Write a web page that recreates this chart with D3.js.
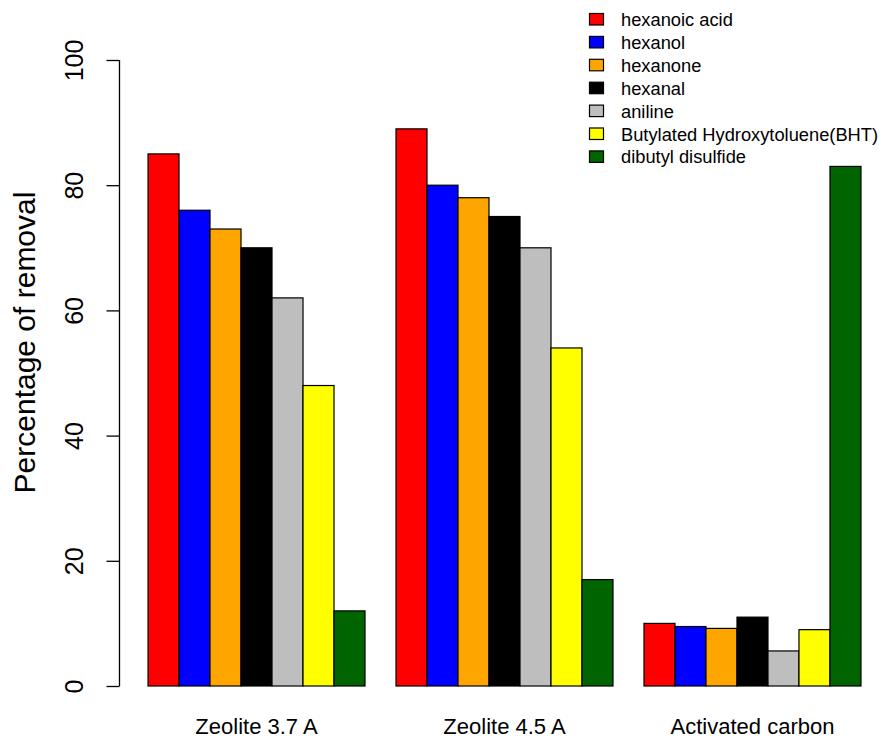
<!DOCTYPE html>
<html>
<head>
<meta charset="utf-8">
<script src="https://cdn.jsdelivr.net/npm/d3@7"></script>
<style>
  html, body { margin: 0; padding: 0; background: #fff; }
  svg { display: block; font-family: "Liberation Sans", Arial, Helvetica, sans-serif; }
</style>
</head>
<body>
<svg id="chart" width="882" height="738"></svg>
<script>
const categories = ["Zeolite 3.7 A", "Zeolite 4.5 A", "Activated carbon"];
const seriesNames = ["hexanoic acid", "hexanol", "hexanone", "hexanal", "aniline", "Butylated Hydroxytoluene(BHT)", "dibutyl disulfide"];
const seriesColors = ["#FF0000", "#0000FF", "#FFA500", "#000000", "#BEBEBE", "#FFFF00", "#006400"];
const hexanoicAcid = [85, 89, 10.0];
const hexanol = [76, 80, 9.5];
const hexanone = [73, 78, 9.2];
const hexanal = [70, 75, 11.0];
const aniline = [62, 70, 5.6];
const bht = [48, 54, 9.0];
const dibutylDisulfide = [12, 17, 83];
const yTicks = [0, 20, 40, 60, 80, 100];
const yLabel = "Percentage of removal";

const seriesValues = [hexanoicAcid, hexanol, hexanone, hexanal, aniline, bht, dibutylDisulfide];

const svg = d3.select("#chart");

// R barplot layout: each bar 1 unit wide, groups separated by 1 unit of space
const nSeries = seriesNames.length;
const groupWidth = nSeries + 1;
const x = d3.scaleLinear().domain([0.08, 24.92]).range([119.5, 889.5]);
const y = d3.scaleLinear().domain([0, 100]).range([686, 60]);

const bars = [];
categories.forEach((c, g) => {
  seriesValues.forEach((vals, j) => {
    bars.push({ g, j, v: vals[g], start: 1 + g * groupWidth + j });
  });
});

svg.append("g").selectAll("rect")
  .data(bars)
  .enter().append("rect")
  .attr("x", d => x(d.start))
  .attr("width", d => x(d.start + 1) - x(d.start))
  .attr("y", d => y(d.v))
  .attr("height", d => y(0) - y(d.v))
  .attr("fill", d => seriesColors[d.j])
  .attr("stroke", "#000")
  .attr("stroke-width", 1.2);

// y axis (R style: rotated labels parallel to axis)
const yAxis = d3.axisLeft(y).tickValues(yTicks).tickSize(13).tickPadding(0).tickFormat(d3.format("d"));
const ya = svg.append("g").attr("transform", "translate(119.5,0)").call(yAxis);
ya.select(".domain").attr("d", `M-0,${y(0)}V${y(100)}`).attr("stroke", "#000").attr("stroke-width", 1.3);
ya.selectAll(".tick line").attr("stroke", "#000").attr("stroke-width", 1.3);
ya.selectAll(".tick text")
  .attr("x", null).attr("dy", null)
  .attr("text-anchor", "middle")
  .attr("transform", "translate(-45.5,0) rotate(-90)")
  .attr("dy", "0.36em")
  .style("font-size", "25px")
  .style("font-family", "Liberation Sans, Arial, sans-serif")
  .attr("fill", "#000");

// y label
svg.append("text")
  .attr("transform", `translate(24,342.5) rotate(-90)`)
  .attr("text-anchor", "middle")
  .attr("dy", "0.36em")
  .style("font-size", "30px")
  .attr("fill", "#000")
  .text(yLabel);

// category labels
svg.append("g").selectAll("text")
  .data(categories)
  .enter().append("text")
  .attr("x", (d, g) => x(1 + g * groupWidth + nSeries / 2))
  .attr("y", 733.5)
  .attr("text-anchor", "middle")
  .style("font-size", "22px")
  .attr("fill", "#000")
  .text(d => d);

// legend
const legend = svg.append("g").attr("transform", "translate(589,13)");
const rowH = 22.9;
const items = legend.selectAll("g").data(seriesNames).enter().append("g")
  .attr("transform", (d, i) => `translate(0,${i * rowH})`);
items.append("rect")
  .attr("x", 0.5).attr("y", 0.5).attr("width", 14).attr("height", 11.5)
  .attr("fill", (d, i) => seriesColors[i])
  .attr("stroke", "#000").attr("stroke-width", 1.2);
items.append("text")
  .attr("x", 32).attr("y", 6.5).attr("dy", "0.36em")
  .style("font-size", "18.3px")
  .attr("fill", "#000")
  .text(d => d);
</script>
</body>
</html>
